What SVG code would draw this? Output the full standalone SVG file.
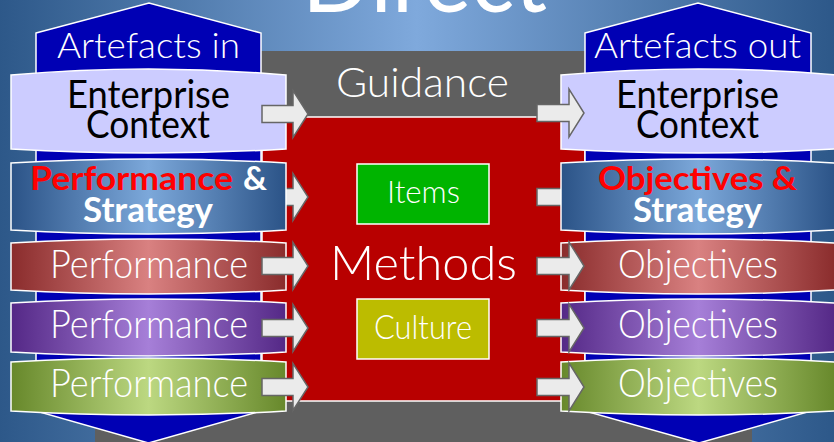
<svg xmlns="http://www.w3.org/2000/svg" xmlns:xlink="http://www.w3.org/1999/xlink" width="834" height="442" viewBox="0 0 834 442">
  <defs>
    <linearGradient id="bg" x1="0" y1="0" x2="1" y2="0">
      <stop offset="0" stop-color="#2d5889"/>
      <stop offset="0.5" stop-color="#7fa9dc"/>
      <stop offset="1" stop-color="#2d5889"/>
    </linearGradient>
    <linearGradient id="gBlue" x1="0" y1="0" x2="1" y2="0">
      <stop offset="0" stop-color="#2b5387"/>
      <stop offset="0.5" stop-color="#7ca8da"/>
      <stop offset="1" stop-color="#2b5387"/>
    </linearGradient>
    <linearGradient id="gRed" x1="0" y1="0" x2="1" y2="0">
      <stop offset="0" stop-color="#8a2c2c"/>
      <stop offset="0.5" stop-color="#d98181"/>
      <stop offset="1" stop-color="#8a2c2c"/>
    </linearGradient>
    <linearGradient id="gPurple" x1="0" y1="0" x2="1" y2="0">
      <stop offset="0" stop-color="#542886"/>
      <stop offset="0.5" stop-color="#a67fd8"/>
      <stop offset="1" stop-color="#542886"/>
    </linearGradient>
    <linearGradient id="gGreen" x1="0" y1="0" x2="1" y2="0">
      <stop offset="0" stop-color="#67882b"/>
      <stop offset="0.5" stop-color="#bcd881"/>
      <stop offset="1" stop-color="#67882b"/>
    </linearGradient>
    <path id="arrL" d="M262,-8.5 H293 V-23.5 L308,0 L293,23.5 V8.5 H262 Z"/>
    <path id="arrR" d="M537,-8.5 H569 V-24 L584,0 L569,24 V8.5 H537 Z"/>
    <style>
      .t { font-family: Lato, "Liberation Sans", sans-serif; fill: #ffffff; font-weight: 300; }
      .reg { font-weight: normal; }
      .dark { fill: #000000; font-weight: normal; }
      .red { fill: #ff0000; }
      .b { font-weight: bold; }
      .box { stroke: #ffffff; stroke-width: 1.5; }
      .pent { fill: #0000b4; stroke: #ffffff; stroke-width: 1.5; }
      .arrow { fill: #ebebeb; stroke: #666666; stroke-width: 1.5; stroke-linejoin: miter; }
    </style>
  </defs>

  <rect x="0" y="0" width="834" height="442" fill="url(#bg)"/>
  <text class="t reg" x="302" y="12" font-size="95" textLength="245" lengthAdjust="spacingAndGlyphs">Direct</text>

  <g id="guidance">
    <rect x="95" y="51" width="657" height="400" fill="#5f5f5f"/>
    <text class="t" x="336" y="97" font-size="42" textLength="173" lengthAdjust="spacingAndGlyphs">Guidance</text>
  </g>

  <g id="methods">
    <rect x="262" y="117" width="323" height="284" fill="#b80000" stroke="#ffffff" stroke-width="1.5"/>
  </g>

  <g id="artefacts-in">
    <path class="pent" d="M36,33 L149,3 L261,33 L261,411 L148.5,443 L36,411 Z"/>
    <text class="t" x="57" y="58" font-size="36" textLength="183" lengthAdjust="spacingAndGlyphs">Artefacts in</text>
  </g>
  <g id="artefacts-out">
    <path class="pent" d="M585,33 L698,3 L811,33 L811,411 L699,443 L585,411 Z"/>
    <text class="t" x="594" y="58" font-size="36" textLength="207" lengthAdjust="spacingAndGlyphs">Artefacts out</text>
  </g>

  <g id="connectors-back">
    <use class="arrow" xlink:href="#arrL" href="#arrL" y="197"/>
    <use class="arrow" xlink:href="#arrR" href="#arrR" y="197"/>
  </g>

  <g id="in-enterprise">
    <path class="box" fill="#ccccff" d="M11,75 Q148.5,63 286,75 L286,149 Q148.5,157 11,149 Z"/>
    <text class="t dark" x="67" y="108" font-size="38" textLength="163" lengthAdjust="spacingAndGlyphs">Enterprise</text>
    <text class="t dark" x="86" y="138" font-size="38" textLength="124" lengthAdjust="spacingAndGlyphs">Context</text>
  </g>
  <g id="in-strategy">
    <path class="box" fill="url(#gBlue)" d="M11,163 Q148.5,155 286,163 L286,230 Q148.5,238 11,230 Z"/>
    <text class="t red b" x="30" y="190" font-size="33" textLength="203" lengthAdjust="spacingAndGlyphs">Performance</text>
    <text class="t b" x="243" y="190" font-size="33" textLength="24" lengthAdjust="spacingAndGlyphs">&amp;</text>
    <text class="t b" x="83" y="222" font-size="35" textLength="130" lengthAdjust="spacingAndGlyphs">Strategy</text>
  </g>
  <g id="in-performance-red">
    <path class="box" fill="url(#gRed)" d="M11,243 Q148.5,235 286,243 L286,290 Q148.5,298 11,290 Z"/>
    <text class="t" x="50" y="278" font-size="39" textLength="198" lengthAdjust="spacingAndGlyphs">Performance</text>
  </g>
  <g id="in-performance-purple">
    <path class="box" fill="url(#gPurple)" d="M11,303 Q148.5,295 286,303 L286,352 Q148.5,360 11,352 Z"/>
    <text class="t" x="50" y="338" font-size="39" textLength="198" lengthAdjust="spacingAndGlyphs">Performance</text>
  </g>
  <g id="in-performance-green">
    <path class="box" fill="url(#gGreen)" d="M11,362 Q148.5,354 286,362 L286,411 Q148.5,419 11,411 Z"/>
    <text class="t" x="50" y="397" font-size="39" textLength="198" lengthAdjust="spacingAndGlyphs">Performance</text>
  </g>

  <g id="out-enterprise">
    <path class="box" fill="#ccccff" d="M561,75 Q698.5,63 836,75 L836,149 Q698.5,157 561,149 Z"/>
    <text class="t dark" x="616" y="108" font-size="38" textLength="163" lengthAdjust="spacingAndGlyphs">Enterprise</text>
    <text class="t dark" x="636" y="138" font-size="38" textLength="123" lengthAdjust="spacingAndGlyphs">Context</text>
  </g>
  <g id="out-strategy">
    <path class="box" fill="url(#gBlue)" d="M561,163 Q698.5,155 836,163 L836,230 Q698.5,238 561,230 Z"/>
    <text class="t red b" x="598" y="190" font-size="33" textLength="199" lengthAdjust="spacingAndGlyphs">Objectives &amp;</text>
    <text class="t b" x="633" y="222" font-size="35" textLength="129" lengthAdjust="spacingAndGlyphs">Strategy</text>
  </g>
  <g id="out-objectives-red">
    <path class="box" fill="url(#gRed)" d="M561,243 Q698.5,235 836,243 L836,290 Q698.5,298 561,290 Z"/>
    <text class="t" x="618" y="278" font-size="39" textLength="160" lengthAdjust="spacingAndGlyphs">Objectives</text>
  </g>
  <g id="out-objectives-purple">
    <path class="box" fill="url(#gPurple)" d="M561,303 Q698.5,295 836,303 L836,352 Q698.5,360 561,352 Z"/>
    <text class="t" x="618" y="338" font-size="39" textLength="160" lengthAdjust="spacingAndGlyphs">Objectives</text>
  </g>
  <g id="out-objectives-green">
    <path class="box" fill="url(#gGreen)" d="M561,362 Q698.5,354 836,362 L836,411 Q698.5,419 561,411 Z"/>
    <text class="t" x="618" y="397" font-size="39" textLength="160" lengthAdjust="spacingAndGlyphs">Objectives</text>
  </g>

  <g id="connectors">
    <use class="arrow" xlink:href="#arrL" href="#arrL" y="114"/>
    <use class="arrow" xlink:href="#arrL" href="#arrL" y="266"/>
    <use class="arrow" xlink:href="#arrL" href="#arrL" y="328"/>
    <use class="arrow" xlink:href="#arrL" href="#arrL" y="387"/>
    <use class="arrow" xlink:href="#arrR" href="#arrR" y="113"/>
    <use class="arrow" xlink:href="#arrR" href="#arrR" y="266"/>
    <use class="arrow" xlink:href="#arrR" href="#arrR" y="328"/>
    <use class="arrow" xlink:href="#arrR" href="#arrR" y="387"/>
  </g>

  <g id="methods-label">
    <text class="t" x="330" y="280" font-size="48" textLength="187" lengthAdjust="spacingAndGlyphs">Methods</text>
  </g>
  <g id="items">
    <rect x="357" y="164" width="132" height="60" fill="#00b400" stroke="#ffffff" stroke-width="1.5"/>
    <text class="t" x="387" y="203" font-size="32" textLength="73" lengthAdjust="spacingAndGlyphs">Items</text>
  </g>
  <g id="culture">
    <rect x="357" y="299" width="132" height="60" fill="#bcbc00" stroke="#ffffff" stroke-width="1.5"/>
    <text class="t" x="374" y="339" font-size="33" textLength="98" lengthAdjust="spacingAndGlyphs">Culture</text>
  </g>
</svg>
